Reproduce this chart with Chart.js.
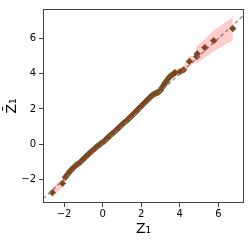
<!DOCTYPE html>
<html lang="en">
<head>
    <meta charset="UTF-8">
    <title>QQ plot</title>
    <style>
        html, body {
            margin: 0;
            padding: 0;
            background: #fff;
            overflow: hidden;
        }
        #wrap {
            width: 249px;
            height: 240px;
        }
    </style>
    <script src="https://cdn.jsdelivr.net/npm/chart.js"></script>
</head>
<body>
    <div id="wrap">
        <canvas id="qq" width="249" height="240"></canvas>
    </div>

    <script>
        // quantis teoricos (x) e amostrais (y)
        const qx = [
            -2.61, -2.08, -1.93, -1.85, -1.78, -1.70, -1.62, -1.55, -1.47, -1.40,
            -1.33, -1.26, -1.19, -1.12, -1.05, -0.98, -0.91, -0.84, -0.77, -0.70,
            -0.63, -0.56, -0.49, -0.42, -0.35, -0.28, -0.21, -0.14, -0.07, 0.00,
            0.07, 0.14, 0.21, 0.28, 0.35, 0.42, 0.49, 0.56, 0.63, 0.70,
            0.77, 0.84, 0.91, 0.98, 1.05, 1.12, 1.19, 1.26, 1.33, 1.40,
            1.47, 1.54, 1.61, 1.68, 1.75, 1.82, 1.89, 1.96, 2.03, 2.10,
            2.17, 2.24, 2.31, 2.38, 2.45, 2.52, 2.59, 2.66, 2.73, 2.80,
            2.87, 2.94, 3.01, 3.08, 3.15, 3.22, 3.29, 3.36, 3.43, 3.50,
            3.57, 3.64, 3.70, 3.76, 4.02, 4.20, 4.50, 4.88, 4.90, 5.30,
            5.76, 6.75
        ];
        const qy = [
            -2.74, -2.22, -1.87, -1.76, -1.66, -1.55, -1.44, -1.36, -1.28, -1.20,
            -1.16, -1.11, -1.04, -0.97, -0.90, -0.83, -0.75, -0.68, -0.60, -0.53,
            -0.46, -0.39, -0.32, -0.25, -0.18, -0.12, -0.06, 0.00, 0.06, 0.11,
            0.17, 0.24, 0.31, 0.38, 0.45, 0.52, 0.59, 0.66, 0.73, 0.80,
            0.87, 0.94, 1.01, 1.08, 1.15, 1.22, 1.29, 1.36, 1.43, 1.50,
            1.57, 1.64, 1.72, 1.80, 1.88, 1.96, 2.04, 2.12, 2.19, 2.27,
            2.35, 2.43, 2.51, 2.59, 2.66, 2.73, 2.79, 2.84, 2.88, 2.91,
            2.94, 2.99, 3.08, 3.20, 3.32, 3.44, 3.56, 3.66, 3.76, 3.84,
            3.91, 3.97, 4.02, 4.06, 4.11, 4.22, 4.70, 4.97, 5.13, 5.48,
            5.87, 6.56
        ];

        // faixa de confianca
        const bandX    = [-2.61, -2.08, -1.93, -1.70, 0.00, 2.50, 2.90, 3.20, 3.50, 3.73, 4.02, 4.20, 4.50, 4.88, 4.90, 5.30, 5.76, 6.75];
        const bandLow  = [-2.97, -2.42, -2.04, -1.64, -0.04, 2.62, 2.86, 3.35, 3.76, 3.94, 3.98, 4.08, 4.45, 4.70, 4.62, 4.95, 5.30, 5.92];
        const bandHigh = [-2.48, -2.00, -1.70, -1.45, 0.24, 2.82, 3.00, 3.52, 3.94, 4.20, 4.28, 4.38, 4.95, 5.05, 5.55, 5.92, 6.42, 7.18];

        // limites dos eixos e linha y = x
        const xLim = [-3.09, 7.33];
        const yLim = [-3.33, 7.67];
        const refLine = [-3.09, 7.33];
        const xTicks = [-2, 0, 2, 4, 6];
        const yTicks = [-2, 0, 2, 4, 6];

        const pts = qx.map((v, i) => ({ x: v, y: qy[i] }));
        const lowPts = bandX.map((v, i) => ({ x: v, y: bandLow[i] }));
        const highPts = bandX.map((v, i) => ({ x: v, y: bandHigh[i] }));
        const refPts = refLine.map(v => ({ x: v, y: v }));

        const tickFont = { family: 'DejaVu Sans', size: 10 };
        const labelFont = { family: 'DejaVu Sans', size: 14 };
        const minus = v => String(v).replace('-', '\u2212');

        // moldura completa (4 lados)
        const frame = {
            id: 'frame',
            afterDatasetsDraw(chart) {
                const a = chart.chartArea;
                const c = chart.ctx;
                c.save();
                c.strokeStyle = '#444';
                c.lineWidth = 1;
                c.strokeRect(a.left + 0.5, a.top + 0.5, a.right - a.left - 1, a.bottom - a.top - 1);
                c.restore();
            }
        };

        const ctx = document.getElementById('qq').getContext('2d');
        const chart = new Chart(ctx, {
            type: 'scatter',
            data: {
                datasets: [
                    {
                        data: highPts,
                        showLine: true,
                        borderColor: 'rgba(255,0,0,0.22)',
                        borderWidth: 0.6,
                        backgroundColor: 'rgba(255,0,0,0.2)',
                        pointRadius: 0,
                        fill: '+1',
                    },
                    {
                        data: lowPts,
                        showLine: true,
                        borderColor: 'rgba(255,0,0,0.22)',
                        borderWidth: 0.6,
                        pointRadius: 0,
                        fill: false,
                    },
                    {
                        data: refPts,
                        showLine: true,
                        borderColor: '#808080',
                        borderWidth: 1.2,
                        borderDash: [4, 2.5],
                        pointRadius: 0,
                        fill: false,
                    },
                    {
                        data: pts,
                        showLine: false,
                        pointStyle: 'rectRot',
                        pointRadius: 3.2,
                        pointBorderWidth: 1,
                        pointBorderColor: '#5e6a2c',
                        pointBackgroundColor: '#6e4a22',
                    },
                ]
            },
            options: {
                responsive: false,
                animation: false,
                events: [],
                layout: { padding: { top: 5, right: 3, left: 0, bottom: 0 } },
                plugins: {
                    legend: { display: false },
                    tooltip: { enabled: false },
                },
                scales: {
                    x: {
                        type: 'linear',
                        min: xLim[0],
                        max: xLim[1],
                        afterBuildTicks: s => { s.ticks = xTicks.map(v => ({ value: v })); },
                        afterFit: s => { s.height = 37; },
                        grid: { display: true, drawOnChartArea: false, tickLength: 4, color: '#444' },
                        border: { display: false },
                        ticks: { font: tickFont, color: '#000', padding: 1, maxRotation: 0, callback: minus },
                        title: { display: true, text: 'Z\u2081', font: labelFont, color: '#000', padding: { top: 0, bottom: 2 } },
                    },
                    y: {
                        type: 'linear',
                        min: yLim[0],
                        max: yLim[1],
                        afterBuildTicks: s => { s.ticks = yTicks.map(v => ({ value: v })); },
                        afterFit: s => { s.width = 43; },
                        grid: { display: true, drawOnChartArea: false, tickLength: 4, color: '#444' },
                        border: { display: false },
                        ticks: { font: tickFont, color: '#000', padding: 3, callback: minus },
                        title: { display: true, text: 'Z\u0304\u2081', font: labelFont, color: '#000', padding: { top: 4, bottom: 0 } },
                    },
                },
            },
            plugins: [frame],
        });
    </script>
</body>
</html>
